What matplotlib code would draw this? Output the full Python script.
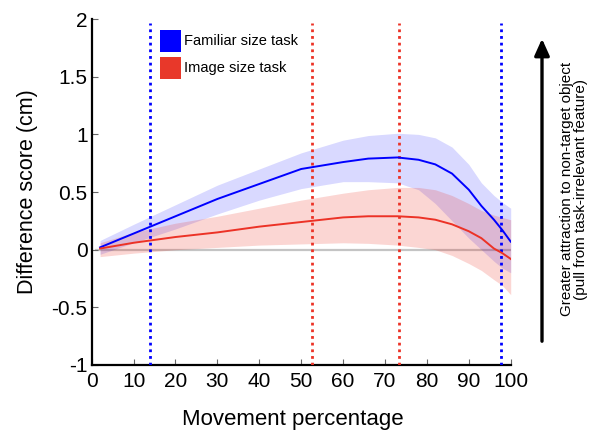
import numpy as np
import matplotlib
matplotlib.use("Agg")
import matplotlib.pyplot as plt
from matplotlib.patches import Rectangle, FancyArrowPatch

plt.rcParams.update({
    "font.family": ["Liberation Sans", "DejaVu Sans"],
    "font.size": 14,
})

# ─── DATA ──────────────────────────────────────────────────────────────
pct = [2, 10, 20, 30, 40, 50, 60, 66, 73, 78, 82, 86, 90, 93, 96, 98, 100]

familiar_mean = [0.02, 0.14, 0.29, 0.44, 0.57, 0.70, 0.76, 0.79, 0.80, 0.78, 0.74,
                 0.66, 0.52, 0.38, 0.26, 0.17, 0.07]
familiar_hi = [0.08, 0.22, 0.39, 0.56, 0.70, 0.84, 0.95, 0.99, 1.01, 1.00, 0.97,
               0.89, 0.74, 0.58, 0.47, 0.41, 0.36]
familiar_lo = [-0.04, 0.06, 0.18, 0.31, 0.43, 0.53, 0.59, 0.59, 0.58, 0.52, 0.40,
               0.25, 0.10, 0.00, -0.10, -0.16, -0.20]

image_mean = [0.01, 0.06, 0.11, 0.15, 0.20, 0.24, 0.28, 0.29, 0.29, 0.28, 0.26,
              0.22, 0.16, 0.10, 0.01, -0.03, -0.08]
image_hi = [0.06, 0.15, 0.23, 0.29, 0.36, 0.43, 0.49, 0.52, 0.54, 0.54, 0.52,
            0.47, 0.40, 0.34, 0.30, 0.28, 0.26]
image_lo = [-0.06, -0.03, 0.00, 0.02, 0.04, 0.05, 0.06, 0.055, 0.04, 0.02, 0.00,
            -0.05, -0.12, -0.18, -0.26, -0.31, -0.39]

familiar_marks = [14, 97.6]
image_marks = [52.6, 73.3]

xticks = list(range(0, 101, 10))
yticks = [-1, -0.5, 0, 0.5, 1, 1.5, 2]
ytick_labels = ["-1", "-0.5", "0", "0.5", "1", "1.5", "2"]

series_labels = ["Familiar size task", "Image size task"]

BLUE = "#0000ff"
RED = "#ec3226"
RED_KEY = "#e8382a"

# ─── PLOTTING ──────────────────────────────────────────────────────────
W, H = 590, 434
fig = plt.figure(figsize=(W / 100, H / 100), dpi=100)
ax = fig.add_axes([0.1554, 0.159, 0.7102, 0.797])

ax.plot([1, 100], [0, 0], color="#c4c4c4", lw=1.6, zorder=1)

ax.fill_between(pct, familiar_lo, familiar_hi, color=BLUE, alpha=0.15, lw=0, zorder=2)
ax.fill_between(pct, image_lo, image_hi, color=RED, alpha=0.2, lw=0, zorder=2)

for xm in familiar_marks:
    ax.plot([xm, xm], [-1, 1.97], color=BLUE, lw=2, ls=(0, (1, 1.4)), zorder=3)
for xm in image_marks:
    ax.plot([xm, xm], [-1, 1.97], color=RED, lw=2, ls=(0, (1, 1.4)), zorder=3)

ax.plot(pct, familiar_mean, color=BLUE, lw=1.4, zorder=4)
ax.plot(pct, image_mean, color=RED, lw=1.4, zorder=4)

ax.set_xlim(0, 100)
ax.set_ylim(-1, 2)
ax.set_xticks(xticks)
ax.set_yticks(yticks)
ax.set_yticklabels(ytick_labels)

for s in ("top", "right"):
    ax.spines[s].set_visible(False)
for s in ("left", "bottom"):
    ax.spines[s].set_linewidth(1.6)
ax.tick_params(direction="in", length=4, width=0.8, color="#666666",
               labelsize=15)
ax.tick_params(axis="x", pad=5)
ax.tick_params(axis="y", pad=3)

ax.set_xlabel("Movement percentage", fontsize=16)
ax.xaxis.set_label_coords(0.479, -0.128)
ax.set_ylabel("Difference score (cm)", fontsize=15.5)
ax.yaxis.set_label_coords(-0.128, 0.5)

# legend keys drawn by hand (figure pixel coords)
for i, (lab, col) in enumerate(zip(series_labels, [BLUE, RED_KEY])):
    top = 30 + i * 27
    fig.patches.append(Rectangle((160 / W, 1 - (top + 22) / H), 21 / W, 22 / H,
                                 transform=fig.transFigure, facecolor=col,
                                 edgecolor="none"))
    fig.text(184 / W, 1 - (top + 11) / H, lab, fontsize=10.5,
             ha="left", va="center")

# right-hand annotation arrow
fig.patches.append(FancyArrowPatch(
    (542 / W, 1 - 344 / H), (542 / W, 1 - 36 / H),
    transform=fig.transFigure, arrowstyle="-|>,head_length=4,head_width=1.8",
    mutation_scale=2.5, color="black", lw=2.4))
fig.text(574 / W, 1 - 189 / H,
         "Greater attraction to non-target object\n(pull from task-irrelevant feature)",
         rotation=90, ha="center", va="center", fontsize=11, linespacing=0.95)

fig.savefig("out.png", dpi=100)
